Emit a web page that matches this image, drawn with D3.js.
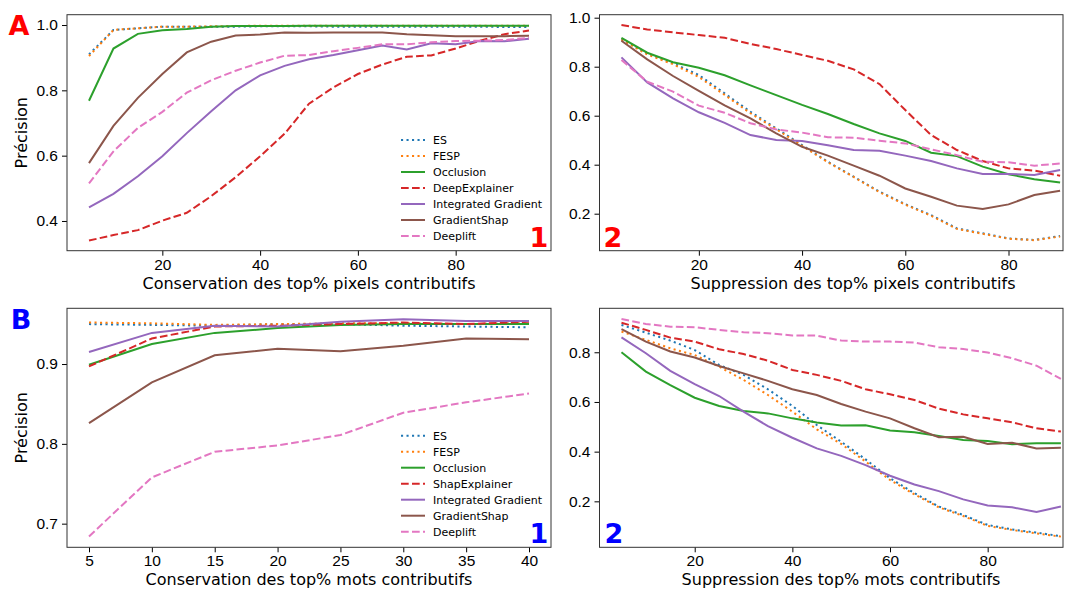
<!DOCTYPE html>
<html>
<head>
<meta charset="utf-8">
<script src="https://cdn.jsdelivr.net/npm/d3@7"></script>
<style>
  body { margin: 0; background: #fff; }
  svg { display: block; font-family: "DejaVu Sans", sans-serif; }
  .tick text { font-size: 15.5px; fill: #000; }
  .tick line { stroke: #000; stroke-width: 1; }
</style>
</head>
<body>
<svg id="fig" width="1072" height="590"></svg>
<script>
// methods (legend order)
let methodsA = ["ES", "FESP", "Occlusion", "DeepExplainer", "Integrated Gradient", "GradientShap", "Deeplift"];
let methodsB = ["ES", "FESP", "Occlusion", "ShapExplainer", "Integrated Gradient", "GradientShap", "Deeplift"];

// A1 - conservation des pixels
let xA1 = [5, 10, 15, 20, 25, 30, 35, 40, 45, 50, 55, 60, 65, 70, 75, 80, 85, 90, 95];
let valuesA1 = [
    [0.910, 0.985, 0.990, 0.995, 0.995, 0.995, 0.995, 0.996, 0.996, 0.996, 0.995, 0.995, 0.995, 0.995, 0.995, 0.995, 0.995, 0.994, 0.994],
    [0.905, 0.985, 0.990, 0.995, 0.995, 0.996, 0.997, 0.998, 0.998, 0.998, 0.998, 0.998, 0.998, 0.998, 0.998, 0.998, 0.998, 0.998, 0.998],
    [0.768, 0.928, 0.973, 0.984, 0.988, 0.995, 0.997, 0.997, 0.997, 0.998, 0.998, 0.998, 0.998, 0.998, 0.998, 0.998, 0.998, 0.998, 0.998],
    [0.340, 0.357, 0.372, 0.401, 0.425, 0.476, 0.534, 0.598, 0.667, 0.759, 0.809, 0.850, 0.879, 0.903, 0.907, 0.928, 0.952, 0.972, 0.983],
    [0.442, 0.483, 0.537, 0.598, 0.669, 0.736, 0.800, 0.846, 0.875, 0.895, 0.908, 0.923, 0.937, 0.925, 0.944, 0.941, 0.951, 0.950, 0.958],
    [0.577, 0.691, 0.777, 0.850, 0.916, 0.949, 0.968, 0.971, 0.977, 0.976, 0.977, 0.977, 0.977, 0.972, 0.969, 0.966, 0.966, 0.966, 0.967],
    [0.515, 0.613, 0.685, 0.734, 0.793, 0.831, 0.860, 0.885, 0.906, 0.908, 0.920, 0.930, 0.941, 0.941, 0.947, 0.951, 0.952, 0.954, 0.961]
];

// A2 - suppression des pixels
let xA2 = [5, 10, 15, 20, 25, 30, 35, 40, 45, 50, 55, 60, 65, 70, 75, 80, 85, 90];
let valuesA2 = [
    [0.913, 0.854, 0.814, 0.766, 0.691, 0.616, 0.548, 0.480, 0.412, 0.351, 0.290, 0.239, 0.194, 0.140, 0.120, 0.099, 0.093, 0.109],
    [0.910, 0.850, 0.810, 0.758, 0.685, 0.610, 0.545, 0.477, 0.410, 0.350, 0.288, 0.237, 0.192, 0.138, 0.118, 0.098, 0.092, 0.107],
    [0.918, 0.857, 0.818, 0.796, 0.765, 0.724, 0.684, 0.644, 0.607, 0.566, 0.528, 0.497, 0.449, 0.435, 0.392, 0.361, 0.341, 0.327],
    [0.970, 0.952, 0.940, 0.929, 0.918, 0.893, 0.872, 0.848, 0.824, 0.789, 0.729, 0.623, 0.521, 0.460, 0.415, 0.385, 0.376, 0.355],
    [0.838, 0.736, 0.671, 0.614, 0.571, 0.521, 0.501, 0.497, 0.479, 0.460, 0.457, 0.437, 0.415, 0.385, 0.362, 0.362, 0.358, 0.378],
    [0.906, 0.830, 0.762, 0.701, 0.642, 0.589, 0.528, 0.473, 0.437, 0.396, 0.355, 0.303, 0.269, 0.233, 0.219, 0.238, 0.276, 0.294],
    [0.827, 0.739, 0.698, 0.641, 0.612, 0.569, 0.544, 0.531, 0.512, 0.510, 0.498, 0.487, 0.463, 0.439, 0.412, 0.410, 0.396, 0.405]
];

// B1 - conservation des mots
let xB1 = [5, 10, 15, 20, 25, 30, 35, 40];
let valuesB1 = [
    [0.950, 0.949, 0.948, 0.950, 0.950, 0.948, 0.947, 0.946],
    [0.952, 0.951, 0.949, 0.950, 0.951, 0.951, 0.950, 0.951],
    [0.899, 0.925, 0.939, 0.945, 0.949, 0.950, 0.950, 0.950],
    [0.897, 0.932, 0.947, 0.948, 0.950, 0.952, 0.950, 0.953],
    [0.915, 0.939, 0.948, 0.947, 0.953, 0.956, 0.954, 0.954],
    [0.826, 0.877, 0.911, 0.919, 0.916, 0.923, 0.932, 0.931],
    [0.684, 0.758, 0.790, 0.798, 0.811, 0.839, 0.852, 0.863]
];

// B2 - suppression des mots
let xB2 = [5, 10, 15, 20, 25, 30, 35, 40, 45, 50, 55, 60, 65, 70, 75, 80, 85, 90, 95];
let valuesB2 = [
    [0.910, 0.879, 0.847, 0.809, 0.749, 0.709, 0.651, 0.584, 0.507, 0.440, 0.369, 0.293, 0.233, 0.179, 0.145, 0.105, 0.087, 0.074, 0.060],
    [0.883, 0.850, 0.816, 0.789, 0.742, 0.689, 0.628, 0.561, 0.490, 0.431, 0.360, 0.286, 0.228, 0.176, 0.141, 0.101, 0.085, 0.071, 0.058],
    [0.800, 0.722, 0.668, 0.617, 0.584, 0.564, 0.554, 0.534, 0.517, 0.505, 0.506, 0.485, 0.478, 0.463, 0.447, 0.443, 0.430, 0.434, 0.434],
    [0.919, 0.890, 0.859, 0.843, 0.812, 0.793, 0.766, 0.729, 0.709, 0.685, 0.651, 0.631, 0.608, 0.573, 0.550, 0.534, 0.518, 0.494, 0.481],
    [0.860, 0.796, 0.725, 0.672, 0.624, 0.561, 0.503, 0.456, 0.413, 0.383, 0.346, 0.303, 0.268, 0.241, 0.208, 0.183, 0.176, 0.157, 0.179],
    [0.893, 0.843, 0.803, 0.779, 0.745, 0.715, 0.685, 0.651, 0.628, 0.592, 0.561, 0.534, 0.494, 0.458, 0.460, 0.431, 0.436, 0.413, 0.416],
    [0.934, 0.914, 0.903, 0.901, 0.890, 0.881, 0.877, 0.868, 0.867, 0.847, 0.843, 0.843, 0.839, 0.820, 0.813, 0.799, 0.776, 0.746, 0.693]
];

// tick values
let xTicksPct = [20, 40, 60, 80];
let xTicksB1 = [5, 10, 15, 20, 25, 30, 35, 40];
let yTicksA1 = [0.4, 0.6, 0.8, 1.0];
let yTicksA2 = [0.2, 0.4, 0.6, 0.8, 1.0];
let yTicksB1 = [0.7, 0.8, 0.9];
let yTicksB2 = [0.2, 0.4, 0.6, 0.8];

// matplotlib tab colours + line styles
let colors = ["#1f77b4", "#ff7f0e", "#2ca02c", "#d62728", "#9467bd", "#8c564b", "#e377c2"];
let dashes = ["2.1,3.4", "2.1,3.4", null, "7.7,3.3", null, null, "7.7,3.3"];

let svg = d3.select("#fig");

function draw_panel(p) {
    let g = svg.append("g");

    let x = d3.scaleLinear().domain(p.xDomain).range([p.left, p.right]);
    let y = d3.scaleLinear().domain(p.yDomain).range([p.bottom, p.top]);

    // axes
    g.append("g")
        .attr("transform", "translate(0," + p.bottom + ")")
        .call(d3.axisBottom(x).tickValues(p.xTicks).tickSize(5).tickPadding(3).tickFormat(d3.format("d")))
        .call(a => a.select(".domain").remove());
    g.append("g")
        .attr("transform", "translate(" + p.left + ",0)")
        .call(d3.axisLeft(y).tickValues(p.yTicks).tickSize(5).tickPadding(4).tickFormat(d3.format(".1f")))
        .call(a => a.select(".domain").remove());

    // lines
    let line = d3.line()
        .x((d, i) => x(p.xs[i]))
        .y(d => y(d));
    p.values.forEach(function(vals, i) {
        g.append("path")
            .datum(vals)
            .attr("d", line)
            .attr("fill", "none")
            .attr("stroke", colors[i])
            .attr("stroke-width", 2)
            .attr("stroke-dasharray", dashes[i]);
    });

    // frame
    g.append("rect")
        .attr("x", p.left).attr("y", p.top)
        .attr("width", p.right - p.left).attr("height", p.bottom - p.top)
        .attr("fill", "none").attr("stroke", "#333").attr("stroke-width", 1);

    // x label
    g.append("text")
        .text(p.xLabel)
        .attr("x", p.xLabelX)
        .attr("y", p.bottom + 38)
        .style("font-size", "16px")
        .style("text-anchor", "middle");

    if (p.yLabel) {
        g.append("text")
            .text(p.yLabel)
            .attr("transform", "translate(27," + ((p.top + p.bottom) / 2) + ") rotate(-90)")
            .style("font-size", "16px")
            .style("text-anchor", "middle");
    }

    // panel number
    g.append("text")
        .text(p.number)
        .attr("x", p.numberX)
        .attr("y", p.bottom - 4)
        .style("font-size", "27px")
        .attr("font-weight", "bold")
        .style("text-anchor", "middle")
        .style("fill", p.labelColor);

    // legend
    if (p.legend) {
        p.legend.forEach(function(name, i) {
            let ly = p.legendY + i * 16;
            g.append("line")
                .attr("x1", 401).attr("x2", 425)
                .attr("y1", ly).attr("y2", ly)
                .attr("stroke", colors[i])
                .attr("stroke-width", 2)
                .attr("stroke-dasharray", dashes[i]);
            g.append("text")
                .text(name)
                .attr("x", 433)
                .attr("y", ly)
                .attr("dy", "0.35em")
                .style("font-size", "11px");
        });
    }
    return { x: x, y: y };
}

draw_panel({
    left: 67, right: 551, top: 14.7, bottom: 250.7,
    xDomain: [0.5, 99.5], yDomain: [0.309, 1.0316],
    xs: xA1, values: valuesA1, xTicks: xTicksPct, yTicks: yTicksA1,
    xLabel: "Conservation des top% pixels contributifs", xLabelX: 309,
    yLabel: "Précision", number: "1", numberX: 539, labelColor: "#ff0000",
    legend: methodsA, legendY: 140
});
draw_panel({
    left: 599.5, right: 1063, top: 14.7, bottom: 250.7,
    xDomain: [0.75, 90.56], yDomain: [0.049, 1.0122],
    xs: xA2, values: valuesA2, xTicks: xTicksPct, yTicks: yTicksA2,
    xLabel: "Suppression des top% pixels contributifs", xLabelX: 853,
    number: "2", numberX: 613, labelColor: "#ff0000"
});
draw_panel({
    left: 67, right: 551, top: 308.3, bottom: 547.3,
    xDomain: [3.25, 41.75], yDomain: [0.6704, 0.9698],
    xs: xB1, values: valuesB1, xTicks: xTicksB1, yTicks: yTicksB1,
    xLabel: "Conservation des top% mots contributifs", xLabelX: 309,
    yLabel: "Précision", number: "1", numberX: 539, labelColor: "#0000ff",
    legend: methodsB, legendY: 435.7
});
draw_panel({
    left: 599.5, right: 1063, top: 308.3, bottom: 547.3,
    xDomain: [0.5, 95.43], yDomain: [0.015, 0.977],
    xs: xB2, values: valuesB2, xTicks: xTicksPct, yTicks: yTicksB2,
    xLabel: "Suppression des top% mots contributifs", xLabelX: 841,
    number: "2", numberX: 614, labelColor: "#0000ff"
});

// figure letters
svg.append("text").text("A")
    .attr("x", 19).attr("y", 35)
    .style("font-size", "27px").attr("font-weight", "bold")
    .style("text-anchor", "middle").style("fill", "#ff0000");
svg.append("text").text("B")
    .attr("x", 21).attr("y", 329)
    .style("font-size", "27px").attr("font-weight", "bold")
    .style("text-anchor", "middle").style("fill", "#0000ff");
</script>
</body>
</html>
